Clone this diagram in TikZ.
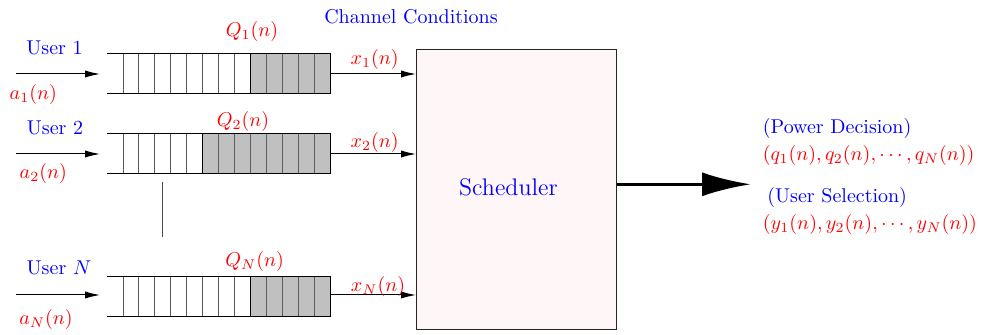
\documentclass[tikz,border=0pt]{standalone}
\usetikzlibrary{arrows.meta}
\definecolor{qgray}{RGB}{192,192,192}
\definecolor{schedfill}{RGB}{255,247,247}
\definecolor{lblue}{RGB}{0,0,255}
\definecolor{lred}{RGB}{255,0,0}
\newcommand\drawmyqueue[2]{%
  % #1 = centre y, #2 = x where grey part starts
  \fill[qgray] (#2,#1-20) rectangle (330,#1+20);
  \foreach \i in {0,...,12} {\draw[qline] ({123+\i*15.92},#1-20) -- ({123+\i*15.92},#1+20);}
  \draw[line width=0.5pt] (107,#1-20) -- (330,#1-20);
  \draw[line width=0.5pt] (107,#1+20) -- (330,#1+20);
  \draw[line width=0.5pt] (#2,#1-20) rectangle (330,#1+20);
}
\begin{document}
\begin{tikzpicture}[x=0.5pt,y=-0.5pt,
  arr/.style={-{Latex[length=7.5pt,width=3.6pt]}, line width=0.5pt},
  bigarr/.style={-{Latex[length=24.5pt,width=12pt]}, line width=1.7pt},
  qline/.style={line width=0.5pt, draw=black!65},
  blab/.style={text=lblue, inner sep=0pt},
  rlab/.style={text=lred, inner sep=0pt},
]
\useasboundingbox (0,0) rectangle (984,335);

% queues
\drawmyqueue{74}{250}
\drawmyqueue{154}{202}
\drawmyqueue{297}{250}

% scheduler
\node[draw=black!85, line width=0.5pt, fill=schedfill, minimum width=100pt, minimum height=140pt, inner sep=0pt] (sched) at (516.5,189.3) {};
\node[blab, font=\large] (schedtxt) at (508.4,187) {Scheduler};

% coordinates
\coordinate (in1s) at (16,74);  \coordinate (in1e) at (100,74);
\coordinate (in2s) at (16,154); \coordinate (in2e) at (100,154);
\coordinate (inNs) at (16,295); \coordinate (inNe) at (100,295);
\coordinate (q1o) at (330,74);
\coordinate (q2o) at (330,154);
\coordinate (qNo) at (330,295);
\coordinate (outtip) at (751,184.3);
\coordinate (dots1) at (162.7,182);
\coordinate (dots2) at (162.7,237);

% arrows
\draw[arr] (in1s) -- (in1e);
\draw[arr] (in2s) -- (in2e);
\draw[arr] (inNs) -- (inNe);
\draw[arr] (q1o) -- (q1o -| sched.west);
\draw[arr] (q2o) -- (q2o -| sched.west);
\draw[arr] (qNo) -- (qNo -| sched.west);
\draw[bigarr] (outtip -| sched.east) -- (outtip);
\draw[line width=0.5pt, draw=black!70] (dots1) -- (dots2);

% labels
\node[blab] (cc) at (411,17) {Channel Conditions};
\node[blab] (u1) at (54.5,47.5) {User 1};
\node[blab] (u2) at (55,128) {User 2};
\node[blab] (uN) at (59,267.5) {User $N$};
\node[rlab] (a1) at (33.3,94.5) {$a_1(n)$};
\node[rlab] (a2) at (43.3,173.5) {$a_2(n)$};
\node[rlab] (aN) at (46,320) {$a_N(n)$};
\node[rlab] (Q1) at (252,32) {$Q_1(n)$};
\node[rlab] (Q2) at (243,121.5) {$Q_2(n)$};
\node[rlab] (QN) at (254.7,261.5) {$Q_N(n)$};
\node[rlab] (x1) at (374.7,60) {$x_1(n)$};
\node[rlab] (x2) at (374.7,143) {$x_2(n)$};
\node[rlab] (xN) at (378,286.5) {$x_N(n)$};
\node[blab, anchor=west] (pd) at (762.5,128.3) {(Power Decision)};
\node[rlab, anchor=west] (qv) at (762.5,156) {$(q_1(n), q_2(n), \cdots, q_N(n))$};
\node[blab, anchor=west] (us) at (767,198) {(User Selection)};
\node[rlab, anchor=west] (yv) at (762.5,225) {$(y_1(n), y_2(n), \cdots, y_N(n))$};
\end{tikzpicture}
\end{document}
